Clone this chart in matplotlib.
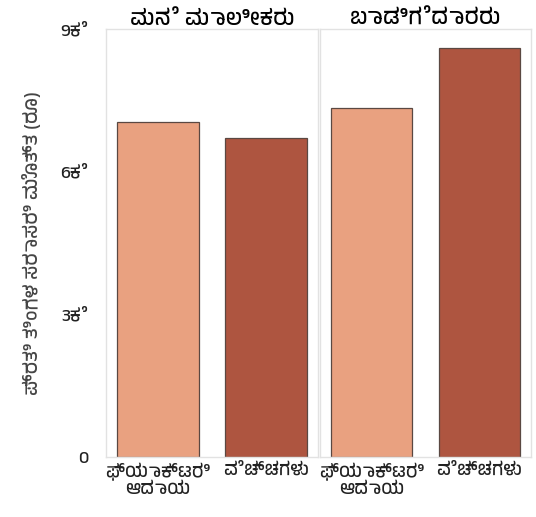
import matplotlib
matplotlib.use('Agg')
import matplotlib.pyplot as plt
from matplotlib import font_manager

# data
panel_titles = ['ಮನೆ ಮಾಲೀಕರು', 'ಬಾಡಿಗೆದಾರರು']
categories = ['ಫ್ಯಾಕ್ಟರಿ\nಆದಾಯ', 'ವೆಚ್ಚಗಳು']
owner_values = [7050, 6710]
renter_values = [7330, 8590]
y_ticks = [0, 3000, 6000, 9000]
y_tick_labels = ['0', '3ಕೆ', '6ಕೆ', '9ಕೆ']
y_label = 'ಪ್ರತಿ ತಿಂಗಳ ಸರಾಸರಿ ಮೊತ್ತ (ರೂ)'

BAR_COLORS = ['#E9A180', '#AE5540']

kannada_fonts = [f.name for f in font_manager.fontManager.ttflist
                 if any(k in f.name for k in ('Kannada', 'Tunga', 'Lohit', 'Gubbi', 'Navilu'))]
plt.rcParams['font.family'] = kannada_fonts[:1] + ['DejaVu Sans']

fig = plt.figure(figsize=(5.36, 5.17), dpi=100)
axes_boxes = [[106 / 536, 60 / 517, 212 / 536, 428 / 517],
              [320 / 536, 60 / 517, 211 / 536, 428 / 517]]

for idx, (box, title, values) in enumerate(zip(axes_boxes, panel_titles,
                                               [owner_values, renter_values])):
    ax = fig.add_axes(box)
    ax.bar(range(len(categories)), values, width=0.755, color=BAR_COLORS,
           edgecolor='#5a4842', linewidth=0.9)
    ax.set_xlim(-0.48, 1.48)
    ax.set_ylim(0, 9000)
    ax.set_xticks(range(len(categories)))
    ax.set_xticklabels(categories, fontsize=13, linespacing=1.1)
    ax.set_yticks(y_ticks)
    if idx == 0:
        ax.set_yticklabels(y_tick_labels, fontsize=13)
        ax.set_ylabel(y_label, fontsize=14, color='#444444', labelpad=14)
    else:
        ax.set_yticklabels([])
    ax.tick_params(axis='x', length=0, pad=4, colors='#222222')
    ax.tick_params(axis='y', length=0, pad=13, colors='#222222')
    for spine in ax.spines.values():
        spine.set_color('#e2e2e2')
        spine.set_linewidth(1)
    ax.set_title(title, fontsize=16, fontweight='bold', pad=2)

fig.savefig('out.png', dpi=100)
